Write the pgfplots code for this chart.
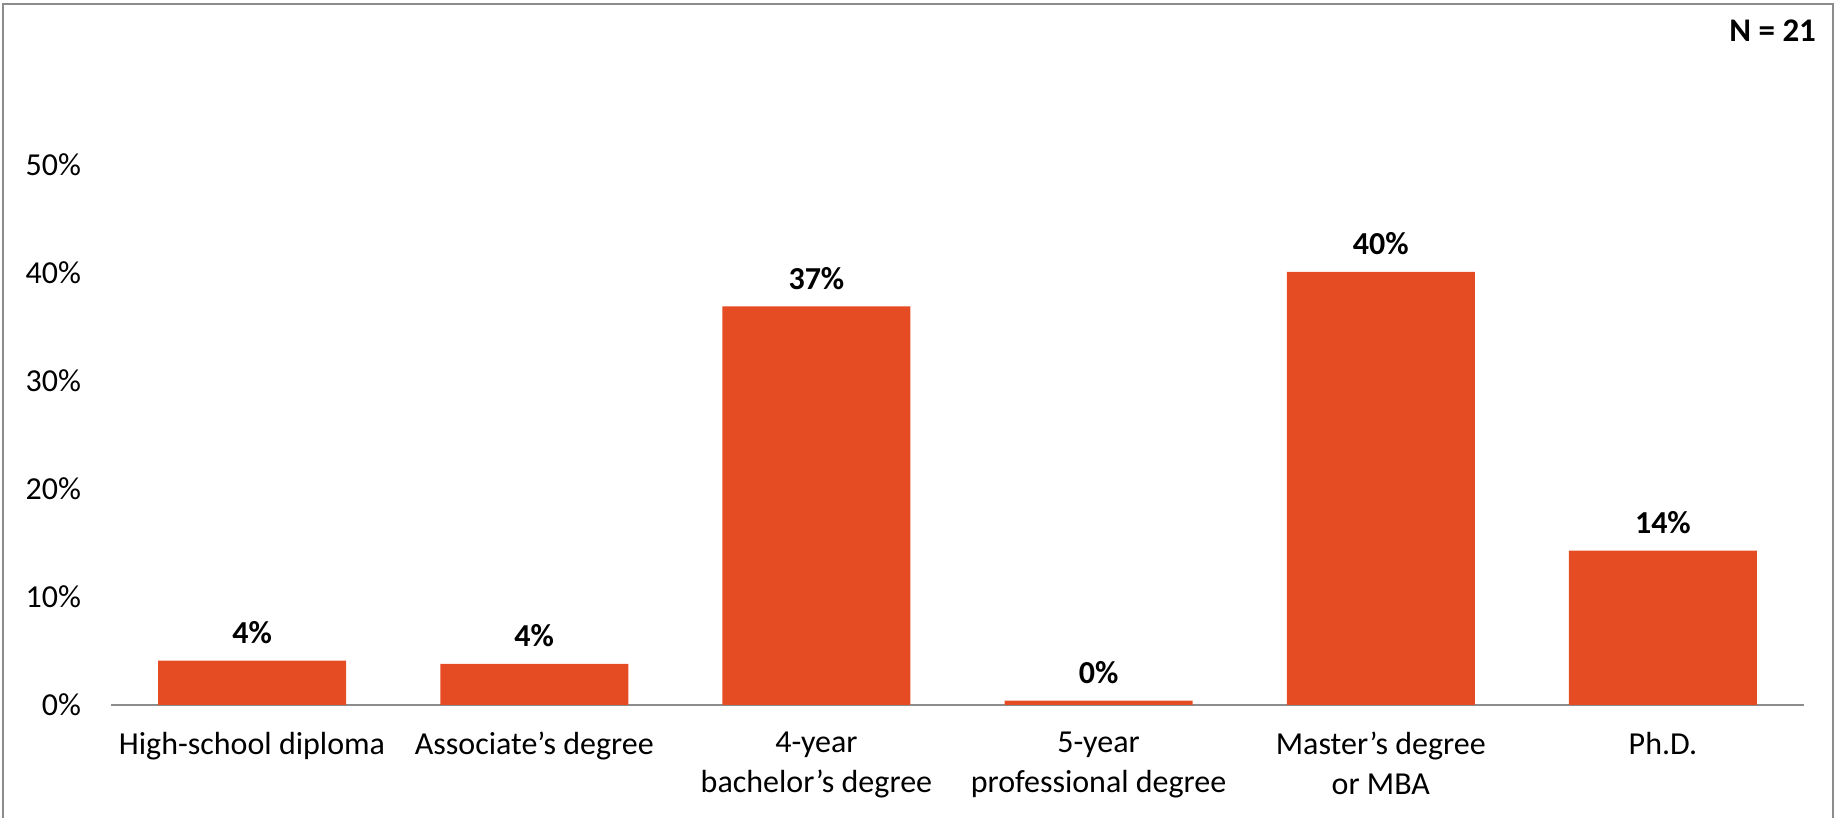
\documentclass[border=0pt]{standalone}
\usepackage{pgfplots}
\pgfplotsset{compat=1.18}
\usepackage{fontspec}
\setmainfont{Carlito}
\definecolor{barc}{HTML}{E64C24}
\definecolor{axc}{HTML}{8C8C8C}
\begin{document}
\fontsize{16pt}{20pt}\selectfont
\begin{tikzpicture}
\useasboundingbox (-55.5pt,-56.5pt) rectangle (863pt,352.5pt);
\draw[axc, line width=1.2pt] (-54pt,-70pt) -- (-54pt,350.5pt) -- (861pt,350.5pt) -- (861pt,-70pt);
\begin{axis}[
  at={(0,0)}, anchor=south west,
  width=846.5pt, height=270pt, scale only axis,
  xmin=-0.5, xmax=5.5, ymin=0, ymax=50,
  clip=false,
  axis lines*=left,
  y axis line style={draw=none},
  x axis line style={axc, line width=1.2pt},
  major tick length=0pt,
  ytick={0,10,20,30,40,50},
  yticklabels={0\%,10\%,20\%,30\%,40\%,50\%},
  yticklabel style={font=\fontsize{16pt}{19pt}\selectfont, xshift=-9.5pt},
  xtick={0,1,2,3,4,5},
  xticklabels={High-school diploma, Associate’s degree, 4-year\\bachelor’s degree, 5-year\\professional degree, Master’s degree\\or MBA, Ph.D.},
  xticklabel style={font=\fontsize{16pt}{20pt}\selectfont, align=center, anchor=north, yshift=-8pt},
  ybar, bar width=94pt,
  nodes near coords={\pgfmathprintnumber[fixed,precision=0,assume math mode=true]{\pgfplotspointmeta}\%},
  nodes near coords style={font=\bfseries\fontsize{16pt}{19pt}\selectfont, anchor=south, yshift=3pt},
]
\addplot[fill=barc, draw=none] coordinates {(0,4.1) (1,3.8) (2,36.9) (3,0.4) (4,40.1) (5,14.3)};
\end{axis}
\node[anchor=base east, font=\bfseries\fontsize{16.5pt}{19pt}\selectfont] at (858pt,331.5pt) {N = 21};
\end{tikzpicture}
\end{document}
